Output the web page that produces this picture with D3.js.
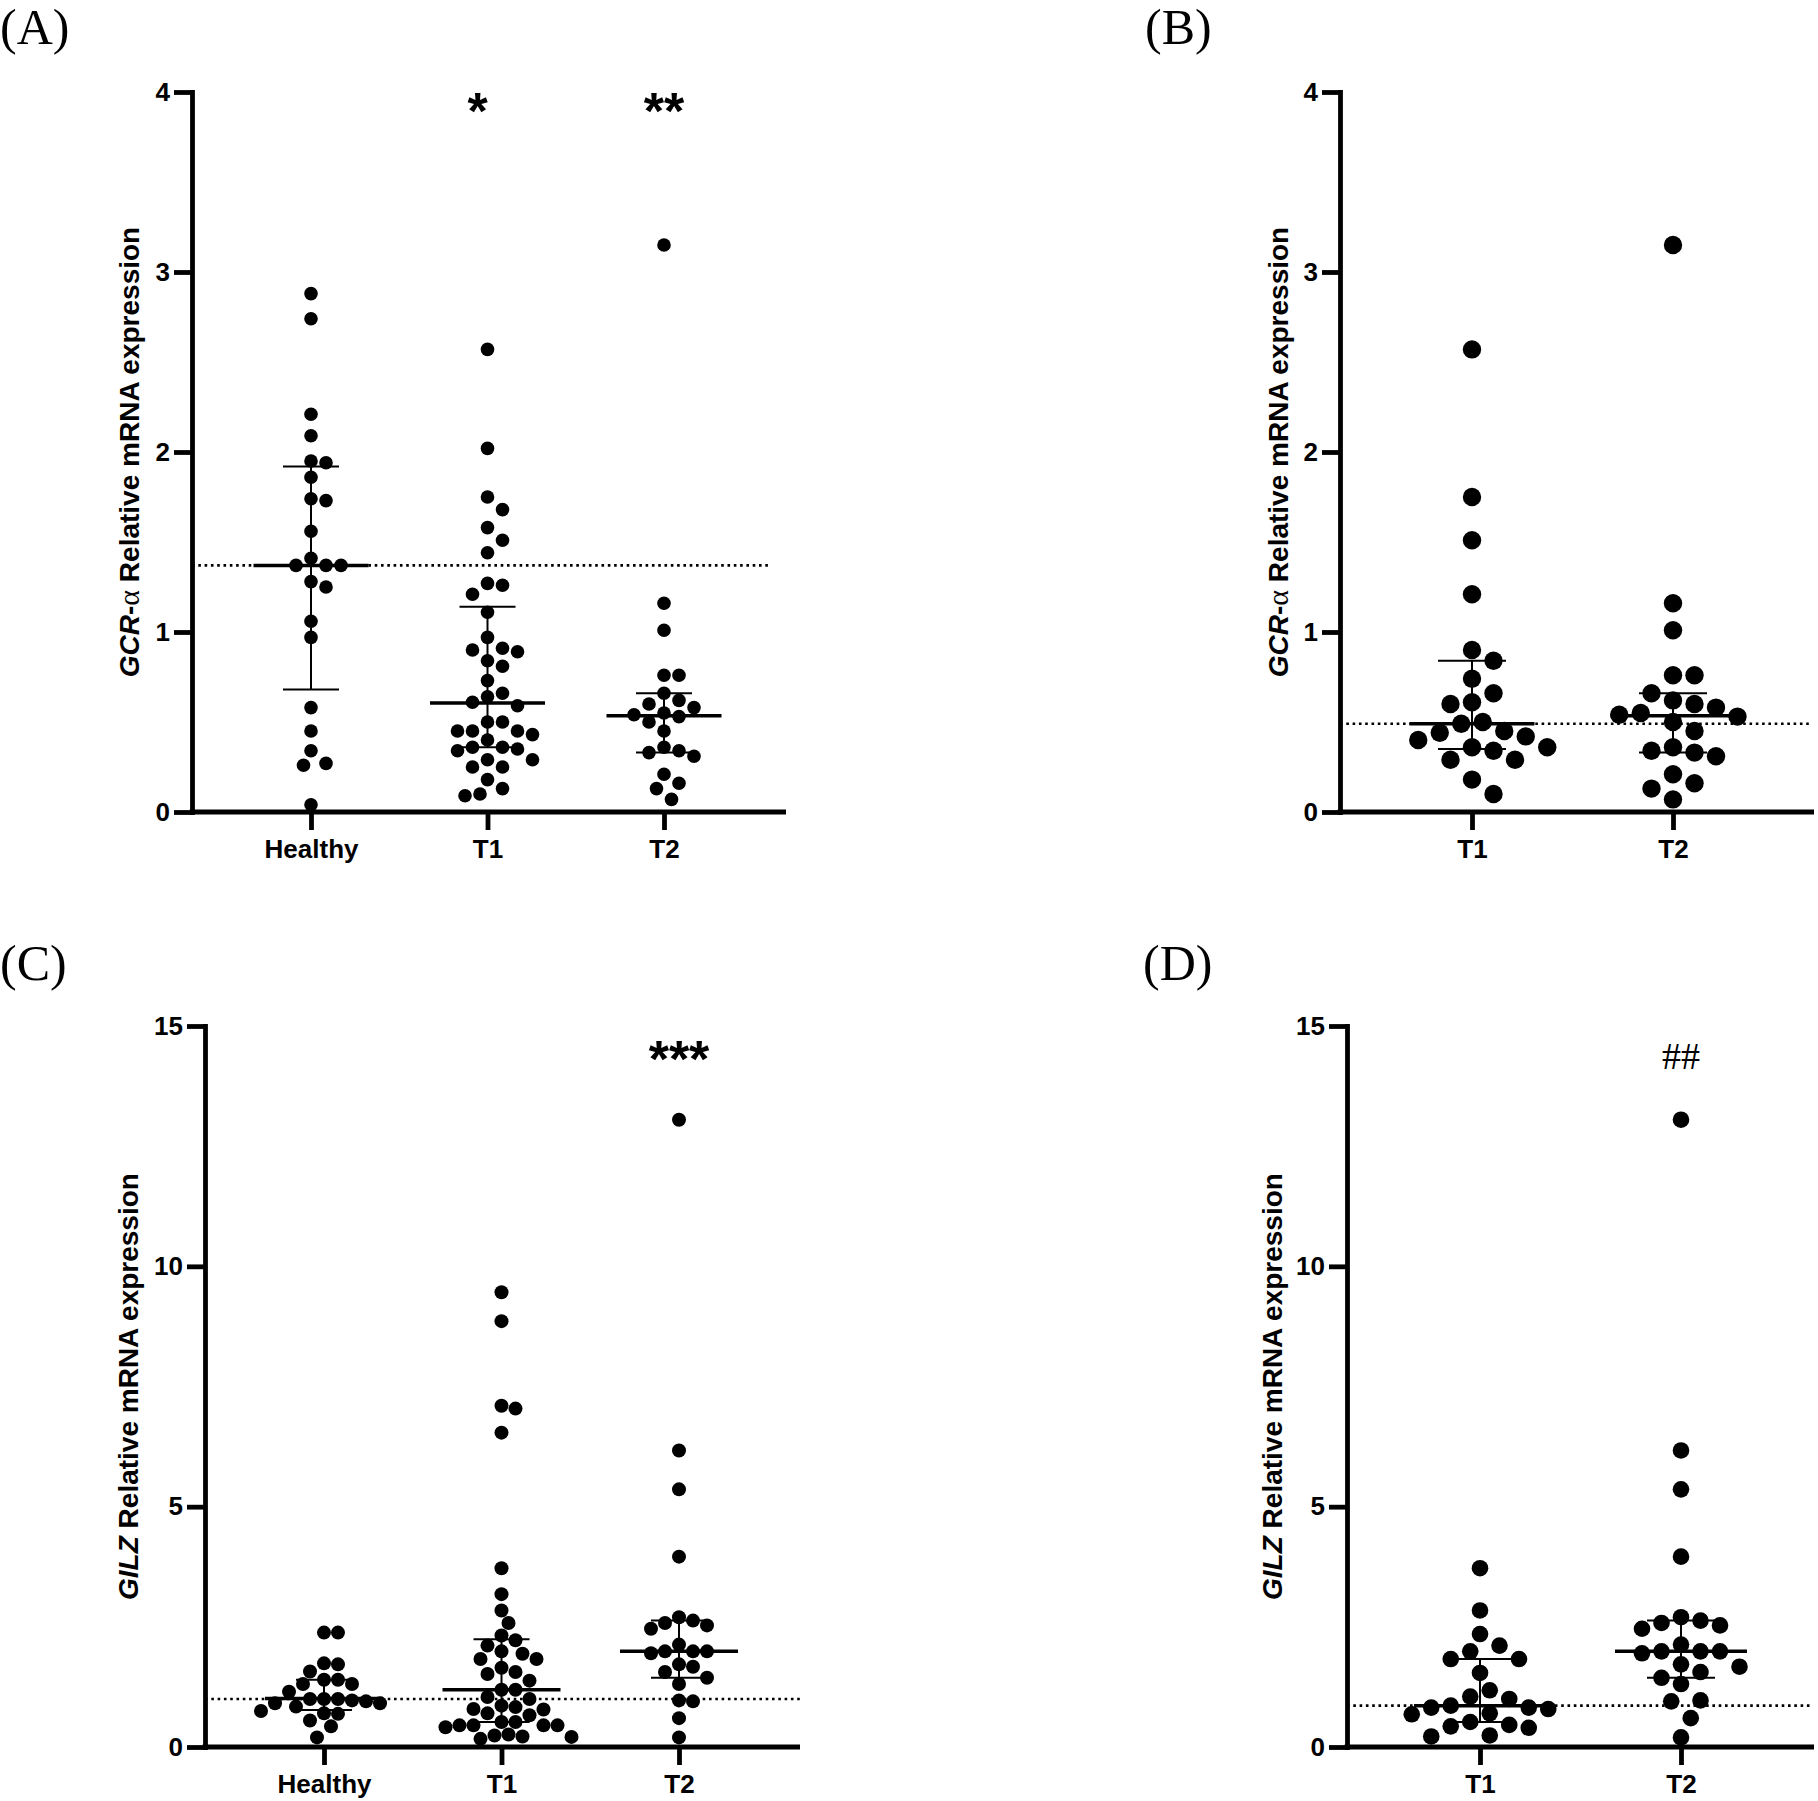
<!DOCTYPE html>
<html>
<head>
<meta charset="utf-8">
<script src="https://cdn.jsdelivr.net/npm/d3@7"></script>
<style>
  html, body { margin: 0; padding: 0; background: #fff; }
  svg { display: block; }
</style>
</head>
<body>
<script>
// ---------------- DATA ----------------
const groupsAll = ["Healthy", "T1", "T2"];
const groupsPaired = ["T1", "T2"];

const gcrTicks = [0, 1, 2, 3, 4];
const gilzTicks = [0, 5, 10, 15];

// GCR-alpha relative mRNA expression
const gcrHealthy = [2.88, 2.74, 2.21, 2.09, 1.95, 1.94, 1.86, 1.74, 1.73, 1.56, 1.41, 1.37, 1.37, 1.37, 1.28, 1.25, 1.06, 0.97, 0.58, 0.45, 0.34, 0.27, 0.26, 0.04];
const gcrT1 = [2.57, 2.02, 1.75, 1.68, 1.58, 1.51, 1.44, 1.27, 1.26, 1.21, 1.11, 0.97, 0.91, 0.90, 0.89, 0.84, 0.81, 0.73, 0.66, 0.64, 0.61, 0.59, 0.50, 0.50, 0.45, 0.45, 0.45, 0.43, 0.40, 0.36, 0.36, 0.35, 0.34, 0.29, 0.29, 0.25, 0.25, 0.18, 0.13, 0.10, 0.09];
const gcrT2 = [3.15, 1.16, 1.01, 0.76, 0.76, 0.66, 0.62, 0.60, 0.58, 0.55, 0.54, 0.53, 0.50, 0.45, 0.36, 0.34, 0.33, 0.31, 0.21, 0.16, 0.13, 0.07];
const gcrT1Paired = [2.57, 1.75, 1.51, 1.21, 0.90, 0.84, 0.74, 0.66, 0.61, 0.60, 0.50, 0.49, 0.45, 0.44, 0.42, 0.40, 0.36, 0.36, 0.34, 0.29, 0.29, 0.18, 0.10];

// GILZ relative mRNA expression
const gilzHealthy = [2.38, 2.38, 1.74, 1.72, 1.57, 1.40, 1.40, 1.31, 1.31, 1.15, 1.00, 1.00, 1.00, 0.97, 0.95, 0.91, 0.91, 0.84, 0.75, 0.70, 0.69, 0.55, 0.43, 0.20];
const gilzT1 = [9.46, 8.86, 7.10, 7.04, 6.54, 3.72, 3.18, 2.84, 2.58, 2.32, 2.22, 2.11, 1.99, 1.94, 1.83, 1.83, 1.65, 1.56, 1.52, 1.38, 1.19, 1.19, 1.04, 1.00, 0.86, 0.83, 0.79, 0.78, 0.70, 0.66, 0.52, 0.52, 0.45, 0.45, 0.45, 0.45, 0.41, 0.26, 0.24, 0.22, 0.21, 0.17];
const gilzT2 = [13.05, 6.17, 5.36, 3.96, 2.70, 2.63, 2.58, 2.53, 2.46, 2.13, 1.99, 1.99, 1.99, 1.95, 1.72, 1.67, 1.56, 1.44, 1.31, 0.97, 0.95, 0.60, 0.20];
const gilzT1Paired = [3.72, 2.84, 2.35, 2.11, 1.99, 1.83, 1.83, 1.54, 1.18, 1.05, 1.00, 0.86, 0.82, 0.82, 0.79, 0.70, 0.68, 0.52, 0.46, 0.43, 0.40, 0.24, 0.22];

// medians and interquartile ranges (as drawn)
const medianA = [1.37, 0.605, 0.535], q1A = [0.68, 0.36, 0.33], q3A = [1.92, 1.14, 0.66];
const medianB = [0.49, 0.535],        q1B = [0.35, 0.33],       q3B = [0.84, 0.66];
const medianC = [1.01, 1.19, 1.99],   q1C = [0.77, 0.52, 1.44], q3C = [1.40, 2.24, 2.63];
const medianD = [0.86, 1.99],         q1D = [0.52, 1.44],       q3D = [1.83, 2.63];

// dotted reference lines
const refLineValues = [1.37, 0.49, 1.00, 0.86];

// significance marks
const sigA = ["", "*", "**"];
const sigB = ["", ""];
const sigC = ["", "", "***"];
const sigD = ["", "##"];

const panelLabels = ["(A)", "(B)", "(C)", "(D)"];

// ---------------- LAYOUT ----------------
const W = 1818, H = 1801;
const svg = d3.select("body").append("svg").attr("width", W).attr("height", H)
  .attr("viewBox", `0 0 ${W} ${H}`);
svg.append("rect").attr("width", W).attr("height", H).attr("fill", "#fff");

const SANS = "'Liberation Sans', Arial, Helvetica, sans-serif";
const SERIF = "'Liberation Serif', 'Times New Roman', serif";
const AXIS_W = 4.8;

const panels = [
  { label: panelLabels[0], labelX: 0, labelY: 44, axisX: 192, yTop: 92, yBot: 812, xRange: [311, 664], xEnd: 786, dotEnd: 770,
    titleX: 139, title: "gcr", yMax: 4, ticks: gcrTicks, cats: groupsAll, series: [gcrHealthy, gcrT1, gcrT2],
    med: medianA, q1: q1A, q3: q3A, ref: refLineValues[0], sig: sigA, sigY: 129, sigSerif: false, sigShift: -10,
    r: 6.8, minDist: 15, medW: 115, capW: 56 },
  { label: panelLabels[1], labelX: 1145, labelY: 44, axisX: 1340, yTop: 92, yBot: 812, xRange: [1472, 1673], xEnd: 1814, dotEnd: 1812,
    titleX: 1288, title: "gcr", yMax: 4, ticks: gcrTicks, cats: groupsPaired, series: [gcrT1Paired, gcrT2],
    med: medianB, q1: q1B, q3: q3B, ref: refLineValues[1], sig: sigB, sigY: 129, sigSerif: false, sigShift: 0,
    r: 9.2, minDist: 21.5, medW: 125, capW: 68 },
  { label: panelLabels[2], labelX: 0, labelY: 980, axisX: 205, yTop: 1026, yBot: 1747, xRange: [324, 679], xEnd: 800, dotEnd: 800,
    titleX: 138, title: "gilz", yMax: 15, ticks: gilzTicks, cats: groupsAll, series: [gilzHealthy, gilzT1, gilzT2],
    med: medianC, q1: q1C, q3: q3C, ref: refLineValues[2], sig: sigC, sigY: 1077, sigSerif: false, sigShift: 0,
    r: 7.0, minDist: 14, medW: 118, capW: 56 },
  { label: panelLabels[3], labelX: 1143, labelY: 980, axisX: 1347, yTop: 1026, yBot: 1747, xRange: [1480, 1681], xEnd: 1814, dotEnd: 1812,
    titleX: 1282, title: "gilz", yMax: 15, ticks: gilzTicks, cats: groupsPaired, series: [gilzT1Paired, gilzT2],
    med: medianD, q1: q1D, q3: q3D, ref: refLineValues[3], sig: sigD, sigY: 1069, sigSerif: true, sigShift: 0,
    r: 8.3, minDist: 19.5, medW: 132, capW: 68 }
];

// beeswarm placement: points sorted top-down, each placed at the nearest free
// horizontal slot (half-step grid) that does not collide with placed points
function swarm(values, y, minDist) {
  const step = minDist / 2;
  const pts = values.map(v => ({ v, y: y(v), dx: 0 })).sort((a, b) => a.y - b.y);
  const placed = [];
  for (const p of pts) {
    for (let k = 0; k < 400; k++) {
      const m = Math.ceil(k / 2);
      const sign = (k % 2 === 1) ? 1 : -1;
      const dx = k === 0 ? 0 : sign * m * step;
      const ok = placed.every(q => (q.dx - dx) ** 2 + (q.y - p.y) ** 2 >= minDist * minDist - 0.5);
      if (ok) { p.dx = dx; break; }
    }
    placed.push(p);
  }
  return pts;
}

function drawPanel(p) {
  const g = svg.append("g");
  const y = d3.scaleLinear().domain([0, p.yMax]).range([p.yBot, p.yTop]);
  const x = d3.scalePoint().domain(p.cats).range(p.xRange);

  // panel label
  svg.append("text").attr("x", p.labelX).attr("y", p.labelY)
    .attr("font-family", SERIF).attr("font-size", 50).attr("fill", "#000")
    .text(p.label);

  // dotted reference line
  g.append("line")
    .attr("x1", p.axisX).attr("x2", p.dotEnd)
    .attr("y1", y(p.ref)).attr("y2", y(p.ref))
    .attr("stroke", "#000").attr("stroke-width", 2.6).attr("stroke-dasharray", "2.6,3.7");

  // dots
  p.series.forEach((vals, i) => {
    const cx = x(p.cats[i]);
    const pts = swarm(vals, y, p.minDist);
    g.append("g").selectAll("circle").data(pts).enter().append("circle")
      .attr("cx", d => cx + d.dx).attr("cy", d => d.y).attr("r", p.r).attr("fill", "#000");
  });

  // median + IQR error bars
  p.cats.forEach((c, i) => {
    const cx = x(c);
    const eb = g.append("g").attr("stroke", "#000").attr("fill", "none");
    eb.append("line").attr("x1", cx).attr("x2", cx).attr("y1", y(p.q1[i])).attr("y2", y(p.q3[i])).attr("stroke-width", 2);
    eb.append("line").attr("x1", cx - p.capW / 2).attr("x2", cx + p.capW / 2).attr("y1", y(p.q1[i])).attr("y2", y(p.q1[i])).attr("stroke-width", 2);
    eb.append("line").attr("x1", cx - p.capW / 2).attr("x2", cx + p.capW / 2).attr("y1", y(p.q3[i])).attr("y2", y(p.q3[i])).attr("stroke-width", 2);
    eb.append("line").attr("x1", cx - p.medW / 2).attr("x2", cx + p.medW / 2).attr("y1", y(p.med[i])).attr("y2", y(p.med[i])).attr("stroke-width", 3.5);
  });

  // y axis
  const ya = g.append("g").attr("transform", `translate(${p.axisX},0)`)
    .call(d3.axisLeft(y).tickValues(p.ticks).tickSize(18).tickSizeOuter(0).tickPadding(4).tickFormat(d3.format("d")));
  ya.select(".domain").style("stroke-width", AXIS_W).style("stroke-linecap", "square");
  ya.selectAll(".tick line").style("stroke-width", AXIS_W);
  ya.selectAll(".tick text").attr("font-family", SANS).attr("font-size", 26).attr("font-weight", "bold").attr("fill", "#000");

  // x axis line
  g.append("line").attr("x1", p.axisX - AXIS_W / 2).attr("x2", p.xEnd).attr("y1", y(0)).attr("y2", y(0))
    .attr("stroke", "#000").style("stroke-width", AXIS_W);
  const xa = g.append("g").attr("transform", `translate(0,${y(0)})`)
    .call(d3.axisBottom(x).tickSize(18).tickSizeOuter(0).tickPadding(9.5));
  xa.select(".domain").remove();
  xa.selectAll(".tick line").style("stroke-width", AXIS_W);
  xa.selectAll(".tick text").attr("font-family", SANS).attr("font-size", 26).attr("font-weight", "bold").attr("fill", "#000");

  // y title
  const tY = (p.yTop + p.yBot) / 2;
  const t = g.append("text").attr("transform", `translate(${p.titleX},${tY}) rotate(-90)`)
    .attr("text-anchor", "middle").attr("font-family", SANS).attr("font-size", 28).attr("font-weight", "bold").attr("fill", "#000");
  if (p.title === "gcr") {
    t.append("tspan").attr("font-style", "italic").text("GCR");
    t.append("tspan").text("-");
    t.append("tspan").attr("font-family", SERIF).attr("font-weight", "normal").attr("font-size", 30).text("α");
    t.append("tspan").text(" Relative mRNA expression");
  } else {
    t.append("tspan").attr("font-style", "italic").text("GILZ");
    t.append("tspan").text(" Relative mRNA expression");
  }

  // significance marks
  p.cats.forEach((c, i) => {
    if (!p.sig[i]) return;
    const single = p.sig[i].length === 1;
    g.append("text").attr("x", x(c) + (single ? p.sigShift : 0)).attr("y", p.sigY).attr("text-anchor", "middle")
      .attr("font-family", p.sigSerif ? SERIF : SANS)
      .attr("font-weight", p.sigSerif ? "normal" : "bold")
      .attr("font-size", p.sigSerif ? 38 : 52)
      .attr("fill", "#000").text(p.sig[i]);
  });
}

panels.forEach(drawPanel);
</script>
</body>
</html>
